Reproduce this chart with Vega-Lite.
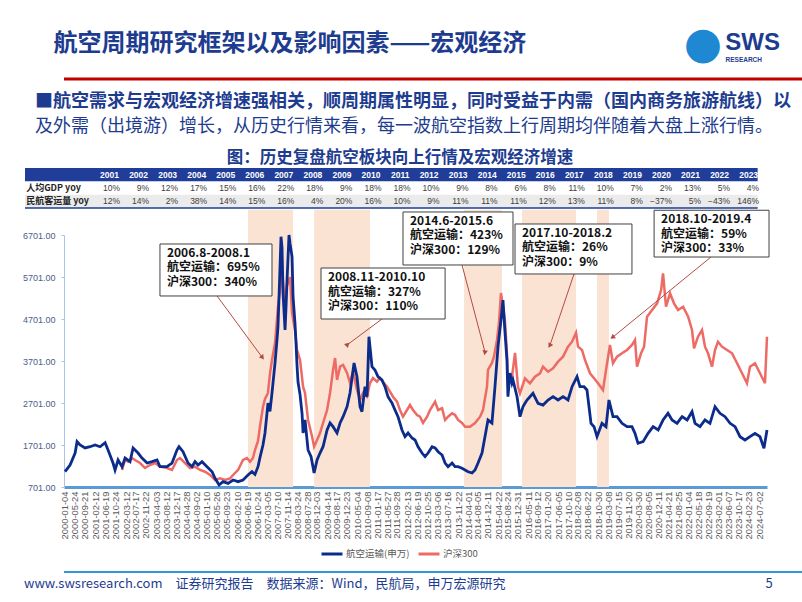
{
"$schema":"https://vega.github.io/schema/vega-lite/v6.json",
"background":"white",
"padding":{"left":0,"top":22,"right":0,"bottom":0},
"config":{"view":{"stroke":null},"font":"Noto Sans CJK SC"},
"datasets":{
"one":[{}],
"years":[{"r":"hdr","year":2001},{"r":"hdr","year":2002},{"r":"hdr","year":2003},{"r":"hdr","year":2004},{"r":"hdr","year":2005},{"r":"hdr","year":2006},{"r":"hdr","year":2007},{"r":"hdr","year":2008},{"r":"hdr","year":2009},{"r":"hdr","year":2010},{"r":"hdr","year":2011},{"r":"hdr","year":2012},{"r":"hdr","year":2013},{"r":"hdr","year":2014},{"r":"hdr","year":2015},{"r":"hdr","year":2016},{"r":"hdr","year":2017},{"r":"hdr","year":2018},{"r":"hdr","year":2019},{"r":"hdr","year":2020},{"r":"hdr","year":2021},{"r":"hdr","year":2022},{"r":"hdr","year":2023}],
"cells":[
{"r":"gdp","year":2001,"v":0.10},{"r":"gdp","year":2002,"v":0.09},{"r":"gdp","year":2003,"v":0.12},{"r":"gdp","year":2004,"v":0.17},{"r":"gdp","year":2005,"v":0.15},{"r":"gdp","year":2006,"v":0.16},{"r":"gdp","year":2007,"v":0.22},{"r":"gdp","year":2008,"v":0.18},{"r":"gdp","year":2009,"v":0.09},{"r":"gdp","year":2010,"v":0.18},{"r":"gdp","year":2011,"v":0.18},{"r":"gdp","year":2012,"v":0.10},{"r":"gdp","year":2013,"v":0.09},{"r":"gdp","year":2014,"v":0.08},{"r":"gdp","year":2015,"v":0.06},{"r":"gdp","year":2016,"v":0.08},{"r":"gdp","year":2017,"v":0.11},{"r":"gdp","year":2018,"v":0.10},{"r":"gdp","year":2019,"v":0.07},{"r":"gdp","year":2020,"v":0.02},{"r":"gdp","year":2021,"v":0.13},{"r":"gdp","year":2022,"v":0.05},{"r":"gdp","year":2023,"v":0.04},
{"r":"pax","year":2001,"v":0.12},{"r":"pax","year":2002,"v":0.14},{"r":"pax","year":2003,"v":0.02},{"r":"pax","year":2004,"v":0.38},{"r":"pax","year":2005,"v":0.14},{"r":"pax","year":2006,"v":0.15},{"r":"pax","year":2007,"v":0.16},{"r":"pax","year":2008,"v":0.04},{"r":"pax","year":2009,"v":0.20},{"r":"pax","year":2010,"v":0.16},{"r":"pax","year":2011,"v":0.10},{"r":"pax","year":2012,"v":0.09},{"r":"pax","year":2013,"v":0.11},{"r":"pax","year":2014,"v":0.11},{"r":"pax","year":2015,"v":0.11},{"r":"pax","year":2016,"v":0.12},{"r":"pax","year":2017,"v":0.13},{"r":"pax","year":2018,"v":0.11},{"r":"pax","year":2019,"v":0.08},{"r":"pax","year":2020,"v":-0.37},{"r":"pax","year":2021,"v":0.05},{"r":"pax","year":2022,"v":-0.43},{"r":"pax","year":2023,"v":1.46}],
"rowlabels":[{"r":"gdp","t":"人均GDP yoy"},{"r":"pax","t":"民航客运量 yoy"}],
"bands":[{"s":"2006-06-29","e":"2008-01-30"},{"s":"2008-10-27","e":"2010-10-16"},{"s":"2014-02-08","e":"2015-06-11"},{"s":"2016-02-24","e":"2018-01-19"},{"s":"2018-10-16","e":"2019-03-19"}],
"boxes":[
{"label":"2006.8-2008.1\n航空运输：695%\n沪深300：340%","x1":"2003-05-23","x2":"2007-05-04","y1":6487,"y2":5249},
{"label":"2008.11-2010.10\n航空运输：327%\n沪深300：110%","x1":"2009-01-24","x2":"2013-06-09","y1":5915,"y2":4701},
{"label":"2014.6-2015.6\n航空运输：423%\n沪深300：129%","x1":"2011-12-15","x2":"2015-10-31","y1":7249,"y2":5987},
{"label":"2017.10-2018.2\n航空运输：26%\n沪深300：9%","x1":"2015-11-26","x2":"2020-01-09","y1":6963,"y2":5773},
{"label":"2018.10-2019.4\n航空运输：59%\n沪深300：33%","x1":"2020-10-20","x2":"2024-11-07","y1":7290,"y2":6177}],
"arrows":[
{"id":"a1","x1":"2005-05-27","y1":5249,"x2":"2006-12-26","y2":3796},
{"id":"a2","x1":"2011-03-19","y1":4701,"x2":"2009-12-25","y2":4082},
{"id":"a3","x1":"2014-01-13","y1":5987,"x2":"2014-11-04","y2":3915},
{"id":"a4","x1":"2017-12-24","y1":5773,"x2":"2017-02-19","y2":4082},
{"id":"a5","x1":"2022-10-22","y1":6177,"x2":"2019-05-10","y2":4273}],
"air":[
{"d":"2000-01-17","v":1065},{"d":"2000-03-22","v":1225},{"d":"2000-05-26","v":1510},{"d":"2000-06-20","v":1780},{"d":"2000-07-29","v":1701},{"d":"2000-10-01","v":1630},{"d":"2000-12-05","v":1660},{"d":"2001-02-07","v":1700},{"d":"2001-04-12","v":1660},{"d":"2001-06-16","v":1756},{"d":"2001-07-24","v":1582},{"d":"2001-09-26","v":1272},{"d":"2001-10-22","v":1106},{"d":"2001-11-30","v":1344},{"d":"2002-01-20","v":1185},{"d":"2002-02-28","v":1391},{"d":"2002-05-03","v":1304},{"d":"2002-06-11","v":1630},{"d":"2002-08-14","v":1510},{"d":"2002-10-04","v":1391},{"d":"2002-12-08","v":1272},{"d":"2003-02-10","v":1304},{"d":"2003-04-15","v":1344},{"d":"2003-05-23","v":1185},{"d":"2003-08-21","v":1185},{"d":"2003-10-25","v":1272},{"d":"2003-12-28","v":1582},{"d":"2004-01-23","v":1660},{"d":"2004-03-15","v":1541},{"d":"2004-05-18","v":1272},{"d":"2004-07-09","v":1185},{"d":"2004-08-16","v":1304},{"d":"2004-09-24","v":1225},{"d":"2004-11-14","v":1304},{"d":"2005-01-18","v":1185},{"d":"2005-03-24","v":1065},{"d":"2005-05-01","v":907},{"d":"2005-06-22","v":749},{"d":"2005-08-12","v":828},{"d":"2005-10-15","v":788},{"d":"2005-12-19","v":867},{"d":"2006-02-21","v":828},{"d":"2006-04-26","v":867},{"d":"2006-06-29","v":987},{"d":"2006-08-19","v":1065},{"d":"2006-09-27","v":1000},{"d":"2006-11-05","v":1185},{"d":"2006-11-30","v":1400},{"d":"2007-01-08","v":1700},{"d":"2007-02-03","v":1987},{"d":"2007-02-28","v":2450},{"d":"2007-03-13","v":2700},{"d":"2007-04-08","v":2500},{"d":"2007-05-04","v":2939},{"d":"2007-06-12","v":3654},{"d":"2007-07-07","v":4200},{"d":"2007-07-20","v":4518},{"d":"2007-08-02","v":5200},{"d":"2007-08-28","v":6661},{"d":"2007-09-10","v":6400},{"d":"2007-09-23","v":5320},{"d":"2007-10-19","v":4439},{"d":"2007-11-01","v":5000},{"d":"2007-11-13","v":5600},{"d":"2007-12-09","v":6701},{"d":"2007-12-22","v":6500},{"d":"2008-01-17","v":6185},{"d":"2008-01-30","v":5232},{"d":"2008-02-24","v":4600},{"d":"2008-03-08","v":4130},{"d":"2008-03-21","v":3600},{"d":"2008-04-03","v":3200},{"d":"2008-04-29","v":2900},{"d":"2008-05-25","v":2450},{"d":"2008-06-07","v":1987},{"d":"2008-07-02","v":2296},{"d":"2008-08-10","v":1582},{"d":"2008-09-18","v":1423},{"d":"2008-10-27","v":1034},{"d":"2008-12-04","v":1344},{"d":"2009-01-11","v":1510},{"d":"2009-02-19","v":1660},{"d":"2009-04-12","v":2058},{"d":"2009-05-20","v":2225},{"d":"2009-06-28","v":2137},{"d":"2009-08-18","v":1987},{"d":"2009-09-26","v":2225},{"d":"2009-11-04","v":2375},{"d":"2009-12-25","v":2613},{"d":"2010-02-01","v":2939},{"d":"2010-03-25","v":3654},{"d":"2010-05-02","v":3328},{"d":"2010-06-10","v":2613},{"d":"2010-07-05","v":2494},{"d":"2010-08-13","v":3089},{"d":"2010-09-08","v":2851},{"d":"2010-10-03","v":4280},{"d":"2010-11-11","v":3566},{"d":"2010-12-19","v":3487},{"d":"2011-01-27","v":3328},{"d":"2011-03-19","v":3249},{"d":"2011-04-27","v":3089},{"d":"2011-06-05","v":2851},{"d":"2011-07-26","v":2701},{"d":"2011-09-03","v":2534},{"d":"2011-10-12","v":2375},{"d":"2011-12-02","v":2058},{"d":"2012-01-10","v":1899},{"d":"2012-02-18","v":1987},{"d":"2012-04-09","v":1867},{"d":"2012-05-18","v":1820},{"d":"2012-06-26","v":1660},{"d":"2012-08-16","v":1510},{"d":"2012-09-24","v":1423},{"d":"2012-11-02","v":1510},{"d":"2012-12-23","v":1660},{"d":"2013-01-31","v":1630},{"d":"2013-03-11","v":1541},{"d":"2013-05-01","v":1463},{"d":"2013-06-09","v":1272},{"d":"2013-07-17","v":1185},{"d":"2013-09-07","v":1272},{"d":"2013-10-15","v":1185},{"d":"2013-11-23","v":1185},{"d":"2014-01-13","v":1146},{"d":"2014-02-21","v":1106},{"d":"2014-04-01","v":1065},{"d":"2014-05-22","v":1034},{"d":"2014-06-29","v":1106},{"d":"2014-08-07","v":1272},{"d":"2014-09-27","v":1510},{"d":"2014-11-04","v":1899},{"d":"2014-12-13","v":2296},{"d":"2015-02-02","v":2225},{"d":"2015-03-13","v":3089},{"d":"2015-04-21","v":4042},{"d":"2015-05-29","v":4677},{"d":"2015-06-24","v":5153},{"d":"2015-07-19","v":4400},{"d":"2015-08-14","v":3725},{"d":"2015-08-27","v":2851},{"d":"2015-09-22","v":3415},{"d":"2015-10-18","v":3177},{"d":"2015-10-31","v":3249},{"d":"2015-12-22","v":2851},{"d":"2016-01-29","v":2375},{"d":"2016-03-07","v":2613},{"d":"2016-04-02","v":2694},{"d":"2016-04-28","v":2773},{"d":"2016-06-05","v":2851},{"d":"2016-07-14","v":2932},{"d":"2016-09-17","v":2694},{"d":"2016-11-20","v":2653},{"d":"2017-01-24","v":2773},{"d":"2017-03-29","v":2851},{"d":"2017-06-02","v":2773},{"d":"2017-08-05","v":2851},{"d":"2017-10-08","v":2773},{"d":"2017-11-29","v":3089},{"d":"2018-02-01","v":3328},{"d":"2018-03-11","v":3089},{"d":"2018-05-02","v":3089},{"d":"2018-06-09","v":3011},{"d":"2018-07-31","v":2217},{"d":"2018-09-08","v":2137},{"d":"2018-10-16","v":1899},{"d":"2018-12-19","v":2217},{"d":"2019-02-09","v":2137},{"d":"2019-03-19","v":2773},{"d":"2019-05-10","v":2375},{"d":"2019-07-01","v":2375},{"d":"2019-09-03","v":2217},{"d":"2019-11-06","v":2137},{"d":"2020-01-09","v":2137},{"d":"2020-02-17","v":1979},{"d":"2020-03-27","v":1741},{"d":"2020-05-31","v":1780},{"d":"2020-08-03","v":1979},{"d":"2020-10-07","v":2137},{"d":"2020-12-11","v":2058},{"d":"2021-02-12","v":2296},{"d":"2021-04-17","v":2455},{"d":"2021-06-08","v":2296},{"d":"2021-08-11","v":2217},{"d":"2021-10-15","v":2375},{"d":"2021-12-19","v":2296},{"d":"2022-02-20","v":2494},{"d":"2022-03-31","v":2217},{"d":"2022-06-03","v":2137},{"d":"2022-08-06","v":2296},{"d":"2022-10-09","v":2217},{"d":"2022-12-13","v":2613},{"d":"2023-02-15","v":2455},{"d":"2023-04-21","v":2375},{"d":"2023-06-25","v":2217},{"d":"2023-08-28","v":2137},{"d":"2023-10-31","v":1899},{"d":"2024-01-03","v":1820},{"d":"2024-03-07","v":1899},{"d":"2024-05-10","v":1979},{"d":"2024-07-14","v":1899},{"d":"2024-09-03","v":1622},{"d":"2024-10-12","v":2058}],
"hs":[
{"d":"2002-01-20","v":1106},{"d":"2002-02-28","v":1344},{"d":"2002-04-08","v":1304},{"d":"2002-05-29","v":1391},{"d":"2002-07-06","v":1344},{"d":"2002-09-09","v":1272},{"d":"2002-11-12","v":1153},{"d":"2003-01-15","v":1225},{"d":"2003-03-20","v":1272},{"d":"2003-05-23","v":1185},{"d":"2003-08-21","v":1153},{"d":"2003-10-25","v":1106},{"d":"2003-12-28","v":1344},{"d":"2004-02-05","v":1391},{"d":"2004-04-10","v":1272},{"d":"2004-06-13","v":1153},{"d":"2004-08-16","v":1185},{"d":"2004-10-20","v":1106},{"d":"2004-12-23","v":1065},{"d":"2005-02-26","v":987},{"d":"2005-05-01","v":867},{"d":"2005-07-04","v":907},{"d":"2005-09-07","v":867},{"d":"2005-11-10","v":907},{"d":"2005-12-19","v":987},{"d":"2006-02-21","v":1106},{"d":"2006-04-26","v":1344},{"d":"2006-06-16","v":1391},{"d":"2006-07-25","v":1304},{"d":"2006-09-01","v":1391},{"d":"2006-09-27","v":1582},{"d":"2006-11-05","v":1800},{"d":"2006-11-30","v":2137},{"d":"2007-01-08","v":2613},{"d":"2007-02-03","v":2800},{"d":"2007-03-13","v":2939},{"d":"2007-04-08","v":3400},{"d":"2007-05-04","v":3725},{"d":"2007-06-12","v":4130},{"d":"2007-07-20","v":4994},{"d":"2007-08-16","v":5400},{"d":"2007-09-10","v":5868},{"d":"2007-10-06","v":5300},{"d":"2007-10-19","v":5153},{"d":"2007-11-13","v":5500},{"d":"2007-11-26","v":5558},{"d":"2007-12-22","v":5700},{"d":"2008-01-17","v":4844},{"d":"2008-02-24","v":4439},{"d":"2008-03-21","v":3963},{"d":"2008-04-29","v":3725},{"d":"2008-06-07","v":3089},{"d":"2008-07-02","v":2939},{"d":"2008-08-10","v":2296},{"d":"2008-10-01","v":1899},{"d":"2008-10-27","v":1660},{"d":"2008-12-04","v":1820},{"d":"2009-01-11","v":1987},{"d":"2009-02-19","v":2225},{"d":"2009-04-12","v":2534},{"d":"2009-05-20","v":2939},{"d":"2009-06-28","v":3487},{"d":"2009-07-24","v":3772},{"d":"2009-08-18","v":3249},{"d":"2009-09-26","v":3566},{"d":"2009-11-04","v":3606},{"d":"2009-12-25","v":3415},{"d":"2010-02-01","v":3177},{"d":"2010-03-12","v":3447},{"d":"2010-05-02","v":3011},{"d":"2010-06-10","v":2773},{"d":"2010-07-18","v":2939},{"d":"2010-09-08","v":2851},{"d":"2010-10-16","v":3177},{"d":"2010-11-24","v":3296},{"d":"2011-01-14","v":3209},{"d":"2011-02-22","v":3296},{"d":"2011-04-01","v":3209},{"d":"2011-05-23","v":3089},{"d":"2011-07-01","v":2970},{"d":"2011-08-08","v":2851},{"d":"2011-09-29","v":2732},{"d":"2011-11-06","v":2534},{"d":"2011-12-15","v":2375},{"d":"2012-02-05","v":2534},{"d":"2012-03-14","v":2653},{"d":"2012-04-22","v":2534},{"d":"2012-06-13","v":2415},{"d":"2012-07-21","v":2375},{"d":"2012-08-29","v":2225},{"d":"2012-10-20","v":2375},{"d":"2012-11-27","v":2534},{"d":"2013-01-31","v":2732},{"d":"2013-03-11","v":2534},{"d":"2013-05-01","v":2574},{"d":"2013-06-09","v":2296},{"d":"2013-07-17","v":2375},{"d":"2013-09-07","v":2454},{"d":"2013-10-15","v":2415},{"d":"2013-11-23","v":2296},{"d":"2014-01-13","v":2225},{"d":"2014-02-21","v":2137},{"d":"2014-04-26","v":2137},{"d":"2014-06-29","v":2225},{"d":"2014-09-02","v":2375},{"d":"2014-10-10","v":2534},{"d":"2014-11-30","v":3089},{"d":"2014-12-13","v":3487},{"d":"2015-02-02","v":3654},{"d":"2015-02-28","v":3804},{"d":"2015-04-08","v":4201},{"d":"2015-05-03","v":4606},{"d":"2015-05-29","v":5320},{"d":"2015-06-24","v":5000},{"d":"2015-07-19","v":4677},{"d":"2015-08-14","v":3892},{"d":"2015-08-27","v":3177},{"d":"2015-10-18","v":3328},{"d":"2015-11-26","v":3892},{"d":"2016-01-03","v":3089},{"d":"2016-01-29","v":2932},{"d":"2016-04-02","v":3289},{"d":"2016-06-05","v":3170},{"d":"2016-08-09","v":3328},{"d":"2016-10-13","v":3408},{"d":"2016-11-20","v":3566},{"d":"2017-01-24","v":3447},{"d":"2017-03-29","v":3527},{"d":"2017-06-02","v":3685},{"d":"2017-08-05","v":3804},{"d":"2017-10-08","v":4042},{"d":"2017-11-29","v":4161},{"d":"2018-01-19","v":4375},{"d":"2018-02-14","v":4042},{"d":"2018-04-06","v":3963},{"d":"2018-05-15","v":3725},{"d":"2018-07-18","v":3408},{"d":"2018-09-08","v":3289},{"d":"2018-10-29","v":3170},{"d":"2019-01-01","v":3011},{"d":"2019-02-09","v":3487},{"d":"2019-04-01","v":4082},{"d":"2019-05-10","v":3646},{"d":"2019-07-01","v":3804},{"d":"2019-09-03","v":3884},{"d":"2019-11-06","v":3963},{"d":"2020-01-09","v":4082},{"d":"2020-02-17","v":4201},{"d":"2020-03-14","v":3566},{"d":"2020-05-05","v":3884},{"d":"2020-06-13","v":4042},{"d":"2020-07-21","v":4756},{"d":"2020-09-24","v":4915},{"d":"2020-11-28","v":5074},{"d":"2021-01-18","v":5391},{"d":"2021-02-12","v":5789},{"d":"2021-03-22","v":4994},{"d":"2021-05-13","v":5312},{"d":"2021-07-03","v":5074},{"d":"2021-08-24","v":4915},{"d":"2021-10-28","v":4994},{"d":"2022-01-01","v":4756},{"d":"2022-02-20","v":4439},{"d":"2022-03-18","v":4002},{"d":"2022-05-08","v":4280},{"d":"2022-06-29","v":4439},{"d":"2022-08-06","v":4042},{"d":"2022-09-14","v":3884},{"d":"2022-11-04","v":3566},{"d":"2022-12-13","v":3963},{"d":"2023-01-20","v":4161},{"d":"2023-03-13","v":4042},{"d":"2023-05-17","v":3963},{"d":"2023-07-20","v":3884},{"d":"2023-09-23","v":3646},{"d":"2023-11-26","v":3408},{"d":"2024-01-28","v":3170},{"d":"2024-03-07","v":3566},{"d":"2024-05-10","v":3646},{"d":"2024-07-14","v":3408},{"d":"2024-09-16","v":3170},{"d":"2024-10-12","v":4280}]
},
"spacing":0,
"resolve":{"scale":{"x":"independent","y":"independent","color":"independent"}},
"vconcat":[
{
"width":738,"height":57,
"data":{"name":"one"},
"title":{"text":"航空周期研究框架以及影响因素——宏观经济","orient":"top","anchor":"start","dx":-9,"offset":-58,"fontSize":24,"fontWeight":"bold","color":"#1D3C8F","baseline":"bottom","font":"Noto Sans CJK SC"},
"layer":[
{"mark":{"type":"rule","color":"#C00000","strokeWidth":3},"encoding":{"y":{"value":"height"}}},
{"mark":{"type":"text","text":"●","fontSize":44,"color":"#1E88D2","align":"center","baseline":"middle","dx":-99,"dy":-34,"font":"DejaVu Sans"},"encoding":{"x":{"value":"width"},"y":{"value":"height"}}},
{"mark":{"type":"text","text":"SWS","fontSize":24,"fontWeight":"bold","color":"#1D3C8F","align":"right","baseline":"alphabetic","dx":-22,"dy":-29,"font":"Liberation Sans"},"encoding":{"x":{"value":"width"},"y":{"value":"height"}}},
{"mark":{"type":"text","text":"RESEARCH","fontSize":6.5,"fontWeight":"bold","color":"#1D3C8F","align":"right","baseline":"alphabetic","dx":-40,"dy":-17,"font":"Liberation Sans"},"encoding":{"x":{"value":"width"},"y":{"value":"height"}}}
]
},
{
"width":738,"height":1,
"data":{"name":"one"},
"title":{"text":["　","■航空需求与宏观经济增速强相关，顺周期属性明显，同时受益于内需（国内商务旅游航线）以"],"subtitle":"　及外需（出境游）增长，从历史行情来看，每一波航空指数上行周期均伴随着大盘上涨行情。","orient":"top","anchor":"start","dx":-29,"offset":0,"lineHeight":12,"fontSize":18,"fontWeight":"bold","color":"#1D3C8F","subtitleFontSize":18,"subtitleColor":"#1D3C8F","subtitlePadding":7,"subtitleFont":"Noto Sans CJK SC","font":"Noto Sans CJK SC","baseline":"top"},
"mark":{"type":"rule","opacity":0},
"encoding":{"y":{"value":0}}
},
{
"width":738,"height":40,
"title":{"text":["　","图：历史复盘航空板块向上行情及宏观经济增速"],"anchor":"middle","dx":-33,"fontSize":16.5,"fontWeight":"bold","color":"#1D3C8F","lineHeight":12,"offset":2,"baseline":"top","font":"Noto Sans CJK SC"},
"layer":[
{"data":{"values":[{"r":"hdr"}]},"mark":{"type":"rect","color":"#1F3D99"},"encoding":{"y":{"field":"r","type":"nominal","scale":{"domain":["hdr","gdp","pax"],"paddingInner":0,"paddingOuter":0},"axis":null},"x":{"datum":1997.73,"type":"quantitative","scale":{"domain":[1999.0723,2024.4768],"nice":false,"zero":false},"axis":null},"x2":{"datum":2022.95}}},
{"data":{"values":[{"r":"pax"}]},"mark":{"type":"rect","color":"#EBEBEB"},"encoding":{"y":{"field":"r","type":"nominal"},"x":{"datum":1997.73,"type":"quantitative"},"x2":{"datum":2022.95}}},
{"data":{"name":"one"},"mark":{"type":"rule","color":"#1F3D99","strokeWidth":1.5},"encoding":{"y":{"value":"height"},"x":{"datum":1997.73,"type":"quantitative"},"x2":{"datum":2022.95}}},
{"data":{"name":"years"},"mark":{"type":"text","align":"right","baseline":"middle","fontSize":8.5,"fontWeight":"bold","color":"white","font":"Liberation Sans","dx":-1},"encoding":{"x":{"field":"year","type":"quantitative"},"y":{"field":"r","type":"nominal"},"text":{"field":"year","type":"nominal"}}},
{"data":{"name":"cells"},"mark":{"type":"text","align":"right","baseline":"middle","fontSize":8.5,"color":"#404040","font":"Liberation Sans"},"encoding":{"x":{"field":"year","type":"quantitative"},"y":{"field":"r","type":"nominal"},"text":{"field":"v","type":"quantitative","format":".0%"}}},
{"data":{"name":"rowlabels"},"mark":{"type":"text","align":"left","baseline":"middle","fontSize":9,"fontWeight":"bold","color":"#262626","font":"Noto Sans CJK SC"},"encoding":{"x":{"datum":1997.77,"type":"quantitative"},"y":{"field":"r","type":"nominal"},"text":{"field":"t"}}}
]
},
{
"width":703,"height":252,
"layer":[
{"data":{"name":"bands"},"mark":{"type":"rect","color":"#FBE3D3"},"encoding":{
"x":{"field":"s","type":"temporal","scale":{"type":"utc","domain":[{"year":2000,"month":1,"date":4,"utc":true},{"year":2024,"month":10,"date":12,"utc":true}]},
"axis":{"title":null,"tickCount":200,"labelExpr":"utcFormat(datum.value, '%Y-%m-%d')","labelAngle":270,"labelFont":"Liberation Sans","labelFontSize":9.4,"labelColor":"#595959","labelOverlap":false,"labelBound":false,"labelFlush":false,"ticks":false,"tickSize":0,"labelPadding":4,"domainColor":"#5B9BD5","domainWidth":3,"grid":false,
"values":[{"year":2000,"month":1,"date":4,"utc":true},{"year":2000,"month":5,"date":24,"utc":true},{"year":2000,"month":9,"date":21,"utc":true},{"year":2001,"month":2,"date":12,"utc":true},{"year":2001,"month":6,"date":19,"utc":true},{"year":2001,"month":10,"date":24,"utc":true},{"year":2002,"month":3,"date":12,"utc":true},{"year":2002,"month":7,"date":17,"utc":true},{"year":2002,"month":11,"date":22,"utc":true},{"year":2003,"month":4,"date":3,"utc":true},{"year":2003,"month":8,"date":12,"utc":true},{"year":2003,"month":12,"date":17,"utc":true},{"year":2004,"month":4,"date":28,"utc":true},{"year":2004,"month":9,"date":2,"utc":true},{"year":2005,"month":1,"date":10,"utc":true},{"year":2005,"month":5,"date":26,"utc":true},{"year":2005,"month":9,"date":23,"utc":true},{"year":2006,"month":2,"date":10,"utc":true},{"year":2006,"month":6,"date":19,"utc":true},{"year":2006,"month":10,"date":24,"utc":true},{"year":2007,"month":3,"date":5,"utc":true},{"year":2007,"month":7,"date":10,"utc":true},{"year":2007,"month":11,"date":14,"utc":true},{"year":2008,"month":3,"date":24,"utc":true},{"year":2008,"month":7,"date":28,"utc":true},{"year":2008,"month":12,"date":3,"utc":true},{"year":2009,"month":4,"date":14,"utc":true},{"year":2009,"month":8,"date":17,"utc":true},{"year":2009,"month":12,"date":23,"utc":true},{"year":2010,"month":5,"date":4,"utc":true},{"year":2010,"month":9,"date":8,"utc":true},{"year":2011,"month":1,"date":17,"utc":true},{"year":2011,"month":5,"date":27,"utc":true},{"year":2011,"month":9,"date":28,"utc":true},{"year":2012,"month":2,"date":13,"utc":true},{"year":2012,"month":6,"date":19,"utc":true},{"year":2012,"month":10,"date":25,"utc":true},{"year":2013,"month":3,"date":6,"utc":true},{"year":2013,"month":7,"date":16,"utc":true},{"year":2013,"month":11,"date":22,"utc":true},{"year":2014,"month":4,"date":1,"utc":true},{"year":2014,"month":8,"date":5,"utc":true},{"year":2014,"month":12,"date":11,"utc":true},{"year":2015,"month":4,"date":22,"utc":true},{"year":2015,"month":8,"date":24,"utc":true},{"year":2015,"month":12,"date":31,"utc":true},{"year":2016,"month":5,"date":11,"utc":true},{"year":2016,"month":9,"date":12,"utc":true},{"year":2017,"month":1,"date":20,"utc":true},{"year":2017,"month":6,"date":5,"utc":true},{"year":2017,"month":10,"date":10,"utc":true},{"year":2018,"month":2,"date":8,"utc":true},{"year":2018,"month":6,"date":22,"utc":true},{"year":2018,"month":10,"date":30,"utc":true},{"year":2019,"month":3,"date":8,"utc":true},{"year":2019,"month":7,"date":15,"utc":true},{"year":2019,"month":11,"date":20,"utc":true},{"year":2020,"month":3,"date":30,"utc":true},{"year":2020,"month":8,"date":5,"utc":true},{"year":2020,"month":12,"date":11,"utc":true},{"year":2021,"month":4,"date":21,"utc":true},{"year":2021,"month":8,"date":25,"utc":true},{"year":2022,"month":1,"date":4,"utc":true},{"year":2022,"month":5,"date":18,"utc":true},{"year":2022,"month":9,"date":19,"utc":true},{"year":2023,"month":2,"date":1,"utc":true},{"year":2023,"month":6,"date":7,"utc":true},{"year":2023,"month":10,"date":17,"utc":true},{"year":2024,"month":2,"date":23,"utc":true},{"year":2024,"month":7,"date":2,"utc":true}]}},
"x2":{"field":"e"},
"y":{"datum":701,"type":"quantitative","scale":{"domain":[701,6701],"nice":false,"zero":false},"axis":{"title":null,"values":[701,1701,2701,3701,4701,5701,6701],"format":".2f","labelFont":"Liberation Sans","labelFontSize":9,"labelColor":"#4A5E8A","domainColor":"#A9C4E8","tickColor":"#A9C4E8","tickSize":3,"labelPadding":6,"grid":false,"minExtent":64}},
"y2":{"datum":7300}}},
{"data":{"name":"hs"},"mark":{"type":"line","strokeWidth":2.5},"encoding":{"x":{"field":"d","type":"temporal"},"y":{"field":"v","type":"quantitative"},"color":{"datum":"沪深300","type":"nominal","scale":{"domain":["航空运输(申万)","沪深300"],"range":["#0C2C8C","#EE6A64"]},"legend":{"orient":"none","legendX":256,"legendY":307,"direction":"horizontal","title":null,"symbolType":"stroke","symbolStrokeWidth":3,"symbolSize":441,"labelFontSize":9.5,"labelColor":"#595959","labelFont":"Noto Sans CJK SC","columnPadding":2,"labelOffset":2,"padding":0}}}},
{"data":{"name":"air"},"mark":{"type":"line","strokeWidth":2.8},"encoding":{"x":{"field":"d","type":"temporal"},"y":{"field":"v","type":"quantitative"},"color":{"datum":"航空运输(申万)","type":"nominal"}}},
{"data":{"name":"arrows"},"mark":{"type":"rule","color":"#B24A44","strokeWidth":1},"encoding":{"x":{"field":"x1","type":"temporal"},"x2":{"field":"x2"},"y":{"field":"y1","type":"quantitative"},"y2":{"field":"y2"}}},
{"data":{"name":"arrows"},"mark":{"type":"point","shape":"triangle","filled":true,"size":30,"color":"#B24A44","opacity":1},"encoding":{"x":{"field":"x2","type":"temporal"},"y":{"field":"y2","type":"quantitative"},"angle":{"field":"id","type":"ordinal","scale":{"domain":["a1","a2","a3","a4","a5"],"range":[143.6,233.4,165.2,198.7,230.8]},"legend":null}}},
{"data":{"name":"boxes"},"mark":{"type":"rect","fill":"white","stroke":"#404040","strokeWidth":1},"encoding":{"x":{"field":"x1","type":"temporal"},"x2":{"field":"x2"},"y":{"field":"y1","type":"quantitative"},"y2":{"field":"y2"}}},
{"data":{"name":"boxes"},"mark":{"type":"text","align":"left","baseline":"top","dx":7,"dy":4,"fontSize":12,"fontWeight":"bold","color":"#111111","lineBreak":"\n","lineHeight":14.5,"font":"Noto Sans CJK SC"},"encoding":{"x":{"field":"x1","type":"temporal"},"y":{"field":"y1","type":"quantitative"},"text":{"field":"label"}}}
]
},
{
"width":738,"height":12,
"data":{"name":"one"},
"title":{"text":"www.swsresearch.com　证券研究报告　数据来源：Wind，民航局，申万宏源研究　　　　　　　　　　　　　　　　　　　　5","orient":"bottom","anchor":"start","dx":-39,"offset":5,"fontSize":13,"fontWeight":"normal","color":"#1D3C8F","baseline":"top","font":"Noto Sans CJK SC"},
"mark":{"type":"rule","color":"#2E9BD6","strokeWidth":2},
"encoding":{"y":{"value":"height"}}
}
]
}
